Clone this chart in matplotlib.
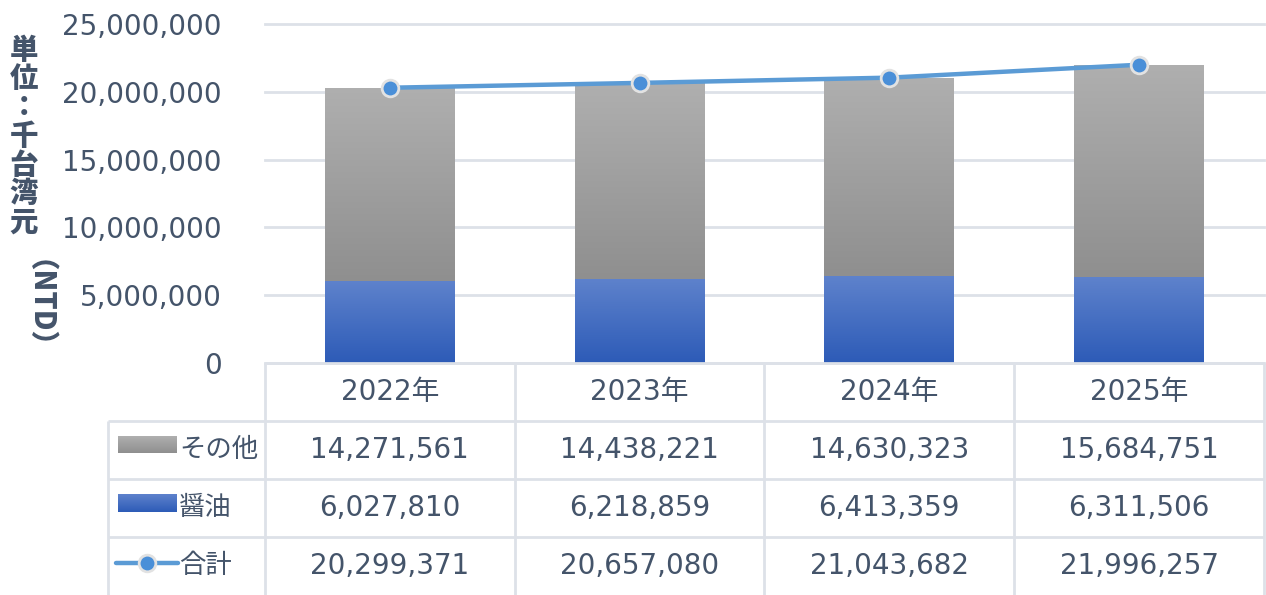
import numpy as np
import matplotlib.pyplot as plt
from matplotlib.colors import LinearSegmentedColormap

plt.rcParams['font.family'] = ['DejaVu Sans', 'Noto Sans CJK JP']

# data --------------------------------------------------------------
years = ['2022年', '2023年', '2024年', '2025年']
other = [14271561, 14438221, 14630323, 15684751]
soy = [6027810, 6218859, 6413359, 6311506]
total = [20299371, 20657080, 21043682, 21996257]
names = ['その他', '醤油', '合計']
yticks = [0, 5000000, 10000000, 15000000, 20000000, 25000000]
ylabel_chars = ['単', '位', '：', '千', '台', '湾', '元']
ylabel_tail = '（NTD）'

# style -------------------------------------------------------------
txt_c = '#44546A'
grid_c = '#DDE1E8'
line_c = '#5B9BD5'
gray_cm = LinearSegmentedColormap.from_list('gray_g', ['#AFAFAF', '#8F8F8F'])
blue_cm = LinearSegmentedColormap.from_list('blue_g', ['#5E82CC', '#2D5BB7'])
fs = 20

W, H = 1266, 595
fig = plt.figure(figsize=(W/100, H/100), dpi=100)

def fx(px):
    return px / W

def fy(py):
    return 1 - py / H

grad = np.linspace(0, 1, 256).reshape(-1, 1)

# main chart --------------------------------------------------------
ax = fig.add_axes([fx(265), fy(363), fx(1264)-fx(265), fy(24)-fy(363)])
x = np.arange(len(years))

def grad_bars(h, bottom, cmap):
    bars = ax.bar(x, h, 0.52, bottom=bottom, color='none', linewidth=0, zorder=2)
    for b in bars:
        x0, y0 = b.get_x(), b.get_y()
        im = ax.imshow(grad, cmap=cmap, aspect='auto', origin='upper', zorder=2,
                       extent=(x0, x0+b.get_width(), y0, y0+b.get_height()))
        im.set_clip_path(b)

grad_bars(soy, 0, blue_cm)
grad_bars(other, soy, gray_cm)
ax.plot(x, total, color=line_c, lw=3.2, marker='o', ms=12, mfc='#4A8FD8',
        mec='#E2E2E2', mew=2, zorder=4, clip_on=False)

ax.set_xlim(-0.5, len(years)-0.5)
ax.set_ylim(0, 25000000)
ax.set_yticks(yticks)
ax.set_yticklabels(['{:,}'.format(v) for v in yticks], color=txt_c, fontsize=fs)
ax.set_xticks([])
ax.tick_params(axis='y', length=0, pad=31)
ax.yaxis.grid(True, color=grid_c, lw=2)
for gl in ax.get_ygridlines():
    gl.set_clip_on(False)
ax.set_axisbelow(True)
for s in ax.spines.values():
    s.set_visible(False)

# y label, vertical writing
for i, ch in enumerate(ylabel_chars):
    fig.text(fx(24), fy(50 + 28.7*i), ch, ha='center', va='center', color=txt_c,
             fontsize=20.5, fontweight='heavy', family=['Noto Sans CJK JP'])
fig.text(fx(24), fy(318), ylabel_tail, ha='center', va='center', rotation=-90,
         color=txt_c, fontsize=20.5, fontweight='heavy', family=['Noto Sans CJK JP'])

# data table --------------------------------------------------------
unit = (1264 - 265) / len(years)
lw_u = (265 - 108) / unit
tax = fig.add_axes([fx(108), fy(595), fx(1264)-fx(108), fy(363)-fy(595)])
left = -0.5 - lw_u
right = len(years) - 0.5

def ux(px):
    return left + (px - 108) / unit

def uy(py):
    return (py - 363) / 58.0

kw = dict(color=grid_c, lw=2, clip_on=False, solid_capstyle='butt')
tax.plot([-0.5, right], [0, 0], **kw)
for r in (1, 2, 3):
    tax.plot([left, right], [r, r], **kw)
for c in np.arange(-0.5, right + 0.01, 1):
    tax.plot([c, c], [0, 4], **kw)
tax.plot([left, left], [1, 4], **kw)

for i, y in enumerate(years):
    tax.text(i, 0.5, y, ha='center', va='center', color=txt_c, fontsize=fs)
    tax.text(i, 1.5, '{:,}'.format(other[i]), ha='center', va='center', color=txt_c, fontsize=fs)
    tax.text(i, 2.5, '{:,}'.format(soy[i]), ha='center', va='center', color=txt_c, fontsize=fs)
    tax.text(i, 3.5, '{:,}'.format(total[i]), ha='center', va='center', color=txt_c, fontsize=fs)

# legend keys inside the table
tax.imshow(grad, cmap=gray_cm, aspect='auto', origin='upper',
           extent=(ux(118), ux(176), uy(453), uy(436)))
tax.imshow(grad, cmap=blue_cm, aspect='auto', origin='upper',
           extent=(ux(118), ux(176), uy(512), uy(494)))
tax.plot([ux(116), ux(178)], [uy(563), uy(563)], color=line_c, lw=3.2,
         solid_capstyle='round', clip_on=False)
tax.plot([ux(147)], [uy(563)], marker='o', ms=12, mfc='#4A8FD8', mec='#E2E2E2',
         mew=2, clip_on=False)
for r, n in enumerate(names):
    tax.text(ux(179), r + 1.5, n, ha='left', va='center', color=txt_c, fontsize=19)

tax.set_xlim(left, right)
tax.set_ylim(4, 0)
tax.axis('off')

fig.savefig('out.png', dpi=100)
